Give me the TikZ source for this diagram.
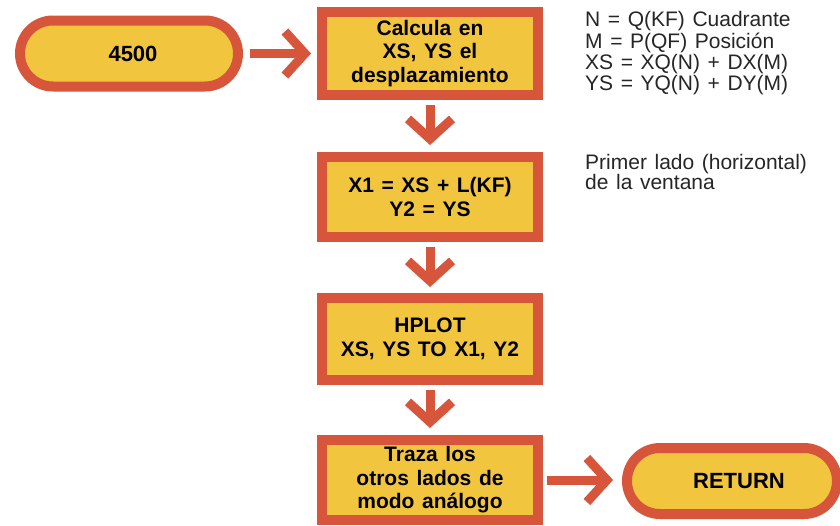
\documentclass[tikz,border=0pt]{standalone}
\usepackage{fontspec}
\setmainfont{Liberation Sans}
\newfontfamily\boxfont{Liberation Sans}[WordSpace=1.3]
\newfontfamily\notefont{Liberation Sans}[WordSpace=1.3]
\usetikzlibrary{arrows.meta}
\definecolor{fillY}{HTML}{F1C63E}
\definecolor{edgeR}{HTML}{D6553B}
\begin{document}
\begin{tikzpicture}[x=1pt,y=-1pt,
  stepbox/.style={draw=edgeR, fill=fillY, line width=10pt, minimum width=216pt,
    inner sep=0pt, align=center, font=\boxfont\bfseries\fontsize{21}{23.5}\selectfont},
  term/.style={draw=edgeR, fill=fillY, line width=10pt, rounded corners=33pt,
    minimum height=66pt, inner sep=0pt, font=\boxfont\bfseries\fontsize{22}{24}\selectfont},
  arr/.style={draw=edgeR, line width=9pt,
    -{Straight Barb[length=20pt,width=44pt,line width=9pt]}},
  note/.style={align=left, inner sep=0pt, anchor=north west, text=black!85}
]
\useasboundingbox (0,0) rectangle (840,525);
\clip (0,0) rectangle (840,525);
\fill[white] (0,0) rectangle (840,525);

\node[term, minimum width=218pt] (s) at (129,53.5) {\hspace*{8pt}4500};
\node[stepbox, minimum height=83pt] (b1) at (430,53.5) {Calcula en\\XS, YS el\\desplazamiento};
\node[stepbox, minimum height=80pt] (b2) at (430,197) {X1 = XS + L(KF)\\Y2 = YS};
\node[stepbox, minimum height=82pt] (b3) at (430,339) {HPLOT\\XS, YS TO X1, Y2};
\node[stepbox, minimum height=80pt] (b4) at (430,480) {Traza los\\otros lados de\\modo análogo};
\node[term, minimum width=210pt] (r) at (732,481) {\hspace*{14pt}RETURN};

\draw[arr, shorten <=7pt, shorten >=6pt] (s.east) -- (b1.west);
\draw[arr, shorten <=5pt, shorten >=7pt] (b1.south) -- (b2.north);
\draw[arr, shorten <=5pt, shorten >=6pt] (b2.south) -- (b3.north);
\draw[arr, shorten <=5pt, shorten >=7pt] (b3.south) -- (b4.north);
\draw[arr, shorten <=4pt, shorten >=9pt] (b4.east) -- (b4.east -| r.west);

\node[note, font=\notefont\fontsize{21}{21.3}\selectfont] (n1) at (585,11.5)
  {N = Q(KF) Cuadrante\\M = P(QF) Posición\\XS = XQ(N) + DX(M)\\YS = YQ(N) + DY(M)};
\node[note, font=\notefont\fontsize{21}{20}\selectfont] (n2) at (585,154.5)
  {Primer lado (horizontal)\\de la ventana};
\end{tikzpicture}
\end{document}
